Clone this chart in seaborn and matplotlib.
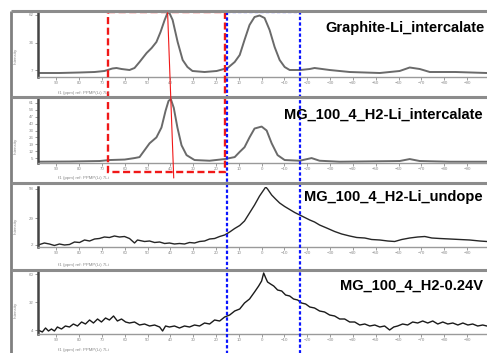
import matplotlib
matplotlib.use("Agg")
import matplotlib.pyplot as plt
import seaborn as sns
import numpy as np
from matplotlib.patches import Rectangle

# chemical shift (ppm) and intensity (a.u.)
p1_ppm = [98, 88.6, 79.8, 73.2, 68.9, 65.4, 63.6, 61.4, 57.9, 55.7, 53.5, 50.4, 48.2,
          46.1, 44.3, 42.5, 41.2, 40.4, 39.0, 36.8, 34.6, 32.5, 30.3, 25.0, 19.7,
          14.9, 11.8, 9.6, 7.5, 5.3, 3.1, 0.9, -1.3, -3.5, -5.7, -7.9, -10.1, -12.3,
          -17.0, -21.1, -23.2, -29.8, -38.6, -51.8, -60.5, -64.9, -69.3, -73.7, -85.0,
          -98.7, -120]
p1_int = [4, 4, 4.5, 5, 6, 8.5, 9, 8, 7, 9, 15, 24, 29,
          35, 45, 57, 64.3, 64, 57, 35, 17, 10, 6, 5, 6,
          9, 15, 22, 37, 52, 60, 61.5, 59, 47, 30, 17, 10, 7,
          7, 8, 9, 7, 5, 4, 6, 9.5, 8, 5, 5,
          4, 4]

p2_ppm = [98, 84, 71, 66.7, 60, 55.7, 53.5, 49.1, 46.1, 43.9, 42.1, 40.8, 39.8, 38.5,
          36.9, 35.1, 32.9, 29.4, 22.8, 16.2, 11.8, 9.6, 7.5, 5.3, 3.1, 0, -2.2, -4.4,
          -7.0, -10.1, -16.7, -21.9, -25.4, -34.2, -60.5, -64.9, -69.3, -82.5, -98.7, -120]
p2_int = [1.3, 1.5, 2, 3, 3.5, 5, 6, 20, 26, 36, 53, 63, 65, 56,
          36, 18, 8, 3, 2.3, 4, 6, 11.3, 16, 26, 35, 37, 33, 20,
          8, 3, 2.3, 5, 2.3, 1.3, 2, 4, 2, 1.3, 1.3, 1.3]

p3_ppm = [98, 95.2, 93.0, 90.8, 88.6, 86.4, 84.2, 82.0, 79.8, 77.6, 75.4, 73.2, 71.1,
          68.9, 66.7, 64.5, 62.3, 60.1, 57.9, 55.7, 54.4, 51.3, 49.1, 46.9, 44.7, 42.5,
          40.4, 38.2, 36.0, 33.8, 31.6, 29.4, 27.2, 25.0, 22.8, 20.6, 18.4, 16.2, 14.0,
          11.8, 9.6, 7.5, 5.3, 3.1, 0.9, -0.9, -1.8, -2.6, -4.4, -6.1, -7.9, -10.1,
          -12.3, -14.5, -16.7, -18.9, -21.1, -23.2, -25.4, -28.5, -32.0, -35.1, -38.6,
          -41.7, -45.2, -48.2, -51.8, -55.3, -58.3, -61.4, -64.9, -68.4, -71.5, -74.6,
          -78.1, -82.5, -86.8, -91.2, -95.6, -98.7, -120]
p3_int = [2, 4, 3, 1.5, 3, 2, 2.5, 5, 4.5, 7, 6, 8, 8.5,
          10, 9.5, 11, 10, 10.5, 8.5, 4, 7, 5.5, 6, 4.5, 5, 3.5,
          4, 3, 3.5, 3, 4.5, 4, 5.5, 6, 8, 8.5, 10.5, 12, 15,
          18.5, 21.5, 26, 34, 42, 51, 57, 60, 58, 52, 48, 44, 40.5,
          37.5, 34.5, 32, 29.5, 27, 25, 22, 19, 15.5, 13, 11,
          9.5, 9, 7.5, 7, 6, 5.5, 7.5, 9, 10, 10.5, 9,
          8.5, 8, 7.5, 7, 6, 5.5, 5.5]

p4_ppm = [98, 96.1, 94.7, 93.4, 92.1, 90.8, 89.5, 87.7, 86.0, 84.2, 82.5, 80.7, 78.9,
          77.2, 75.4, 73.7, 71.9, 70.2, 68.4, 66.7, 64.9, 63.2, 61.4, 59.6, 57.9, 55.7,
          53.5, 51.3, 49.1, 46.9, 44.7, 43.4, 42.1, 40.4, 38.2, 36.0, 33.8, 31.6, 29.4,
          27.2, 25.0, 22.8, 20.6, 18.4, 16.2, 14.0, 11.8, 9.6, 7.5, 5.3, 3.1, 1.3, 0,
          -0.9, -1.8, -2.6, -3.9, -5.3, -7.0, -8.8, -10.5, -12.3, -14.0, -15.8, -17.5,
          -19.3, -21.1, -23.2, -25.4, -27.6, -29.8, -32.0, -34.2, -36.4, -38.6, -40.8,
          -43.0, -45.2, -47.4, -49.6, -51.8, -53.9, -56.1, -57.9, -59.6, -61.8, -64.0,
          -66.2, -68.4, -70.6, -72.8, -75.0, -77.2, -79.4, -81.6, -83.8, -86.0, -88.2,
          -90.4, -92.5, -94.7, -96.9, -98.7, -120]
p4_int = [4, 2, 6, 3, 5, 3, 7, 5, 8, 7, 10, 8, 12,
          10, 14, 11, 15, 12, 16, 14, 18, 13, 15, 12, 11, 12,
          9, 10, 8, 9, 7, 3, 8, 7, 8, 6, 8, 7, 9,
          8, 11, 10, 14, 13, 17, 19, 23, 25, 31, 35, 42, 48, 53,
          61, 56, 52, 50, 48, 44, 43, 39, 38, 35, 34, 31,
          30, 27, 26, 23, 22, 19, 18, 15, 15, 12, 12,
          9, 10, 8, 9, 7, 8, 4, 7, 8, 10, 9,
          12, 11, 13, 11, 13, 10, 12, 10, 11, 9, 11,
          9, 10, 8, 9, 8, 8]

# sample names as far as they are visible in the pasted screenshots
titles = ["Graphite-Li_intercalate", "MG_100_4_H2-Li_intercalate",
          "MG_100_4_H2-Li_undope", "MG_100_4_H2-0.24V"]
ppm_ticks = [90, 80, 70, 60, 50, 40, 30, 20, 10, 0, -10, -20, -30, -40, -50,
             -60, -70, -80, -90]

sns.set_theme(style="white")
plt.rcParams["font.family"] = ["Liberation Sans", "DejaVu Sans"]

W, H = 487, 353
fig = plt.figure(figsize=(W / 100, H / 100), dpi=100)
fig.patch.set_facecolor("white")

# panel geometry in pixels: top, bottom, ymax
panels = [
    (p1_ppm, p1_int, 12, 77, 65, [7, 34, 62], "#6a6a6a", 1.4),
    (p2_ppm, p2_int, 98, 163, 66, [5, 12, 19, 26, 33, 40, 47, 54, 61], "#6a6a6a", 1.4),
    (p3_ppm, p3_int, 187, 247, 60, [2, 29, 58], "#262626", 1.0),
    (p4_ppm, p4_int, 272, 334, 62, [4, 32, 60], "#1a1a1a", 1.0),
]
x0, x1 = 38, 540

axes = []
for xs, ys, top, bot, ymax, yt, col, lw in panels:
    ax = fig.add_axes([x0 / W, 1 - bot / H, (x1 - x0) / W, (bot - top) / H])
    sns.lineplot(x=xs, y=ys, ax=ax, color=col, linewidth=lw)
    ax.set_xlim(98, -122)
    ax.set_ylim(0, ymax)
    ax.set_xticks(ppm_ticks)
    ax.set_yticks(yt)
    ax.set_xlabel("")
    ax.set_ylabel("")
    for s in ["top", "right"]:
        ax.spines[s].set_visible(False)
    ax.spines["left"].set_color("#444444")
    ax.spines["left"].set_linewidth(1.8)
    ax.spines["bottom"].set_color("#9a9a9a")
    ax.spines["bottom"].set_linewidth(1.0)
    ax.tick_params(axis="both", which="both", direction="out", length=2, width=0.6,
                   colors="#8a8a8a", labelsize=3.2, pad=1.2, bottom=True, left=True)
    ax.patch.set_alpha(0)
    axes.append(ax)

over = fig.add_axes([0, 0, 1, 1], zorder=10)
over.set_xlim(0, W)
over.set_ylim(H, 0)
over.axis("off")
over.patch.set_alpha(0)

# gray frames around the pasted panels
over.plot([11, 11], [11, H], color="#808080", lw=2, solid_capstyle="butt")
for yy in [11, 97, 183, 270]:
    over.plot([11, W], [yy, yy], color="#8c8c8c", lw=2.2, solid_capstyle="butt")

# small axis captions
for yl, xlab_y in zip([56, 146, 226, 310], [93, 178, 265, 350]):
    over.text(16, yl, "Intensity", rotation=90, fontsize=3.2, color="#8a8a8a",
              ha="center", va="center")
    over.text(58, xlab_y, "f1 (ppm) ref: PPMP(Li) 7Li", fontsize=3.2, color="#8a8a8a",
              ha="left", va="center")

# sample names
for t, (xt, yt) in zip(titles, [(325, 31.7), (284, 118.3), (304, 201), (340, 289.3)]):
    over.text(xt, yt, t, fontsize=10.5, fontweight="bold", color="black",
              ha="left", va="baseline")

# red line through the two main peaks
def peak_px(ax, xs, ys):
    i = int(np.argmax(ys))
    d = ax.transData.transform((xs[i], ys[i]))
    return over.transData.inverted().transform(d)

pa = peak_px(axes[0], p1_ppm, p1_int)
pb = peak_px(axes[1], p2_ppm, p2_int)
y_end = 178
x_end = pa[0] + (pb[0] - pa[0]) * (y_end - pa[1]) / (pb[1] - pa[1])
over.plot([pa[0], x_end], [pa[1], y_end], color="#f01818", lw=0.8)

over.add_patch(Rectangle((108, 12), 117, 160, fill=False, edgecolor="#f01818",
                         lw=1.7, ls=(0, (3, 1.5))))
over.add_patch(Rectangle((227, 12), 73, 360, fill=False, edgecolor="#0a14ff",
                         lw=1.6, ls=(0, (1.5, 1))))

plt.savefig("out.png", dpi=100)
plt.close()
